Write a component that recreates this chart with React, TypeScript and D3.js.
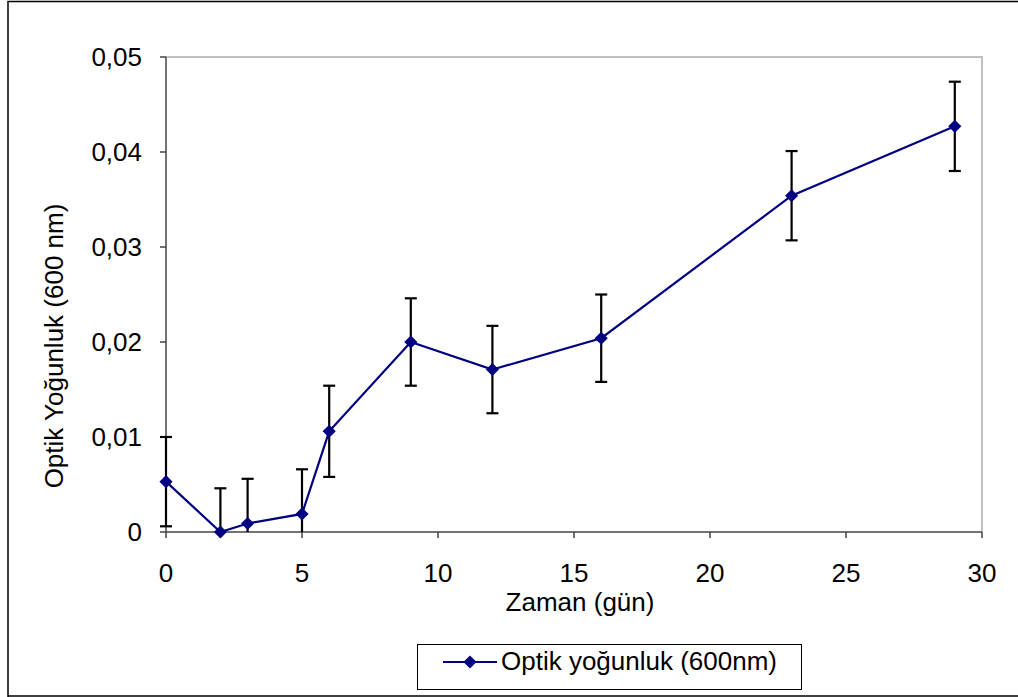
import React, { useEffect, useRef } from 'react';
import * as d3 from 'd3';

// data
const days = [0, 2, 3, 5, 6, 9, 12, 16, 23, 29];
const od = [0.0053, 0.0, 0.0009, 0.0019, 0.0106, 0.0200, 0.0171, 0.0204, 0.0354, 0.0427];
const err = [0.0047, 0.0046, 0.0047, 0.0047, 0.0048, 0.0046, 0.0046, 0.0046, 0.0047, 0.0047];
const xTicks = [0, 5, 10, 15, 20, 25, 30];
const yTicks = [0, 0.01, 0.02, 0.03, 0.04, 0.05];
const seriesName = 'Optik yoğunluk (600nm)';
const xTitle = 'Zaman (gün)';
const yTitle = 'Optik Yoğunluk (600 nm)';

function App() {
  const svgRef = useRef<SVGSVGElement>(null);

  useEffect(() => {
    const svg = d3.select(svgRef.current);
    svg.selectAll('*').remove();

    const font = 'Liberation Sans, Arial, sans-serif';
    const fs = 26;
    const navy = '#000080';

    // outer chart border
    svg.append('path')
      .attr('d', 'M8,697 L8,1.5 L1018,1.5 M8,696 L1018,696')
      .attr('fill', 'none')
      .attr('stroke', '#000')
      .attr('stroke-width', 1.5);

    const x = d3.scaleLinear().domain([0, 30]).range([166, 982]);
    const y = d3.scaleLinear().domain([0, 0.05]).range([532, 57]);

    // plot area frame (grey top/right)
    svg.append('path')
      .attr('d', `M${x(0)},${y(0.05)} L${x(30)},${y(0.05)} L${x(30)},${y(0)}`)
      .attr('fill', 'none')
      .attr('stroke', '#c0c0c0')
      .attr('stroke-width', 2);

    // axes
    const fmt = (d: number) => (d === 0 ? '0' : d3.format('.2f')(d).replace('.', ','));

    const yAxis = svg.append('g');
    yAxis.append('line')
      .attr('x1', x(0)).attr('x2', x(0))
      .attr('y1', y(0)).attr('y2', y(0.05))
      .attr('stroke', '#444').attr('stroke-width', 1.5);
    yTicks.forEach(t => {
      yAxis.append('line')
        .attr('x1', x(0) - 6).attr('x2', x(0))
        .attr('y1', y(t)).attr('y2', y(t))
        .attr('stroke', '#444').attr('stroke-width', 1.5);
      yAxis.append('text')
        .attr('x', 142).attr('y', y(t))
        .attr('dy', '0.35em')
        .attr('text-anchor', 'end')
        .attr('font-family', font).attr('font-size', fs)
        .text(fmt(t));
    });

    const xAxis = svg.append('g');
    xAxis.append('line')
      .attr('x1', x(0)).attr('x2', x(30))
      .attr('y1', y(0)).attr('y2', y(0))
      .attr('stroke', '#444').attr('stroke-width', 1.5);
    xTicks.forEach(t => {
      xAxis.append('line')
        .attr('x1', x(t)).attr('x2', x(t))
        .attr('y1', y(0)).attr('y2', y(0) + 6)
        .attr('stroke', '#444').attr('stroke-width', 1.5);
      xAxis.append('text')
        .attr('x', x(t)).attr('y', 582)
        .attr('text-anchor', 'middle')
        .attr('font-family', font).attr('font-size', fs)
        .text(String(t));
    });

    // axis titles
    svg.append('text')
      .attr('x', 580).attr('y', 611)
      .attr('text-anchor', 'middle')
      .attr('font-family', font).attr('font-size', fs)
      .text(xTitle);

    svg.append('text')
      .attr('transform', 'translate(63,346) rotate(-90)')
      .attr('text-anchor', 'middle')
      .attr('font-family', font).attr('font-size', fs)
      .text(yTitle);

    const data = days.map((d, i) => ({ d, v: od[i], e: err[i] }));

    // error bars
    const eb = svg.append('g').attr('stroke', '#000').attr('stroke-width', 2.2);
    data.forEach(p => {
      const lo = Math.max(0, p.v - p.e);
      const hi = p.v + p.e;
      eb.append('line')
        .attr('x1', x(p.d)).attr('x2', x(p.d))
        .attr('y1', y(lo)).attr('y2', y(hi));
      eb.append('line')
        .attr('x1', x(p.d) - 6).attr('x2', x(p.d) + 6)
        .attr('y1', y(hi)).attr('y2', y(hi));
      if (p.v - p.e > 0) {
        eb.append('line')
          .attr('x1', x(p.d) - 6).attr('x2', x(p.d) + 6)
          .attr('y1', y(lo)).attr('y2', y(lo));
      }
    });

    // series line
    const line = d3.line<{ d: number; v: number }>()
      .x(p => x(p.d))
      .y(p => y(p.v));

    svg.append('path')
      .datum(data)
      .attr('d', line)
      .attr('fill', 'none')
      .attr('stroke', navy)
      .attr('stroke-width', 2.2);

    const diamond = d3.symbol().type(d3.symbolDiamond2).size(110);
    svg.selectAll('.pt')
      .data(data)
      .enter().append('path')
      .attr('class', 'pt')
      .attr('d', diamond as any)
      .attr('transform', p => `translate(${x(p.d)},${y(p.v)})`)
      .attr('fill', navy);

    // legend
    const lg = svg.append('g');
    lg.append('rect')
      .attr('x', 417.5).attr('y', 644.5)
      .attr('width', 384).attr('height', 45)
      .attr('fill', '#fff')
      .attr('stroke', '#000').attr('stroke-width', 1);
    lg.append('line')
      .attr('x1', 443).attr('x2', 497)
      .attr('y1', 662).attr('y2', 662)
      .attr('stroke', navy).attr('stroke-width', 2.2);
    lg.append('path')
      .attr('d', diamond as any)
      .attr('transform', 'translate(470,662)')
      .attr('fill', navy);
    lg.append('text')
      .attr('x', 501).attr('y', 670)
      .attr('font-family', font).attr('font-size', fs)
      .text(seriesName);
  }, []);

  return (
    <svg
      ref={svgRef}
      width={1018}
      height={697}
      style={{ position: 'absolute', left: 0, top: 0, background: '#fff' }}
    />
  );
}

export default App;
